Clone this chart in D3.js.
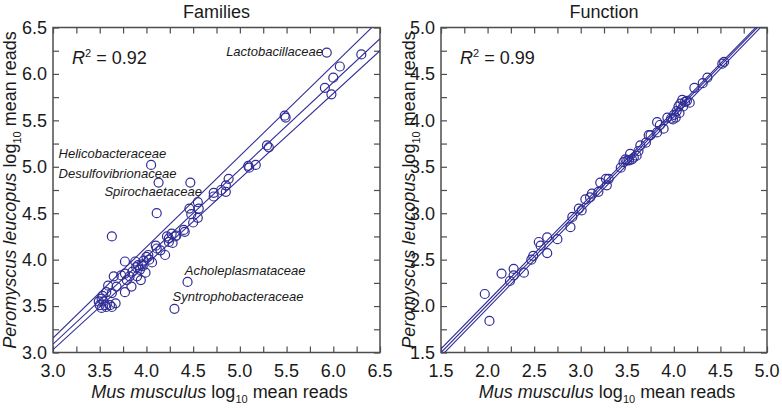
<!DOCTYPE html>
<html>
<head>
<meta charset="utf-8">
<script src="https://cdn.jsdelivr.net/npm/d3@7"></script>
<style>
  html, body { margin: 0; padding: 0; background: #fff; }
  svg { display: block; font-family: "Liberation Sans", Arial, sans-serif; }
</style>
</head>
<body>
<svg id="chart" width="782" height="409"></svg>
<script>
// ---------- DATA ----------
const panelTitles = ["Families", "Function"];
const r2Values = ["0.92", "0.99"];

// Families panel (Mus musculus x, Peromyscus leucopus y), log10 mean reads
const famX = [6.30,5.93,6.07,6.00,5.91,5.98,5.48,5.49,5.29,5.31,5.09,5.10,5.17,
  4.88,4.85,4.80,4.85,4.72,4.72,4.47,4.05,4.13,4.11,
  4.55,4.46,4.56,4.48,4.55,4.50,4.40,4.32,3.63,
  4.22,4.27,4.31,4.24,4.28,4.41,4.24,4.20,4.06,4.00,3.97,4.02,
  4.10,4.11,4.15,3.77,3.88,3.91,3.89,3.93,3.99,3.85,3.94,3.90,3.82,3.77,3.73,3.65,3.79,
  3.84,3.77,3.68,3.59,3.63,3.57,3.52,3.54,3.50,3.56,3.61,3.67,3.52,3.57,3.63,3.49,3.53,
  3.95,4.03,3.96,4.44,4.30];
const famY = [6.21,6.23,6.08,5.96,5.85,5.78,5.55,5.53,5.23,5.21,5.01,4.99,5.02,
  4.87,4.80,4.75,4.73,4.72,4.68,4.83,5.02,4.83,4.50,
  4.62,4.55,4.55,4.49,4.45,4.40,4.32,4.26,4.25,
  4.25,4.28,4.25,4.19,4.18,4.30,4.23,4.05,3.97,4.03,3.99,4.05,
  4.15,4.12,4.10,3.98,3.98,3.94,3.92,3.89,3.86,3.87,3.78,3.82,3.82,3.85,3.83,3.82,3.78,
  3.71,3.65,3.71,3.72,3.64,3.65,3.58,3.55,3.51,3.51,3.51,3.53,3.48,3.49,3.49,3.55,3.61,
  3.95,4.00,3.93,3.76,3.47];

// Function panel
const funX = [4.52,4.54,4.36,4.31,4.22,4.09,4.12,4.07,4.05,4.10,4.03,4.06,4.00,4.02,3.97,
  3.93,3.82,3.89,3.85,3.73,3.82,3.75,3.64,3.62,3.60,3.53,3.50,3.46,3.48,3.52,3.55,3.57,
  3.43,3.30,3.27,3.28,3.21,3.19,3.12,3.10,3.05,3.01,2.98,2.91,2.89,2.75,2.64,2.57,2.64,
  2.55,2.49,2.47,2.39,2.28,2.28,2.24,2.15,1.97,2.02,4.14,4.17,3.99,3.70];
const funY = [4.61,4.63,4.46,4.40,4.35,4.22,4.20,4.18,4.15,4.15,4.10,4.08,4.06,4.03,4.02,
  4.03,3.98,3.91,3.95,3.84,3.87,3.84,3.73,3.67,3.62,3.64,3.57,3.55,3.58,3.57,3.58,3.60,
  3.49,3.37,3.37,3.30,3.33,3.23,3.21,3.17,3.15,3.03,3.05,2.96,2.85,2.72,2.74,2.65,2.57,
  2.69,2.54,2.50,2.36,2.40,2.33,2.27,2.35,2.13,1.84,4.21,4.19,4.01,3.76];

// Regression line (centre) and band lines: y = a + b*x
const famIntercepts = [0.216, 0.27, 0.27];
const famSlopes     = [0.98, 0.94, 0.92];
const funIntercepts = [0.004, -0.045, -0.088];
const funSlopes     = [1.024, 1.03, 1.032];

// Labelled families (text + anchor in data units)
const famLabelNames = ["Lactobacillaceae","Helicobacteraceae","Desulfovibrionaceae",
  "Spirochaetaceae","Acholeplasmataceae","Syntrophobacteraceae"];
const famLabelX = [5.89, 3.06, 3.06, 3.55, 4.41, 4.28];
const famLabelY = [6.19, 5.10, 4.88, 4.69, 3.83, 3.55];
const famLabelAnchor = ["end","start","start","start","start","start"];

const famDomain = [3.0, 6.5];
const funDomain = [1.5, 5.0];

// ---------- DRAW ----------
const svg = d3.select("#chart");
const ink = "#302c96";
const frame = "#4d4d4d";

function panel(opts) {
  const { x0, x1, y0, y1, domain, xs, ys, intercepts, slopes, title, r2, id, yLabelX } = opts;
  const x = d3.scaleLinear().domain(domain).range([x0, x1]);
  const y = d3.scaleLinear().domain(domain).range([y1, y0]);
  const g = svg.append("g");

  g.append("clipPath").attr("id", id).append("rect")
    .attr("x", x0).attr("y", y0).attr("width", x1 - x0).attr("height", y1 - y0);

  // ticks (inward, all four sides)
  const minor = d3.range(domain[0], domain[1] + 0.001, 0.25);
  const major = d3.range(domain[0], domain[1] + 0.001, 0.5);
  const tl = 6;
  const fmt = d3.format(".1f");

  const axB = d3.axisBottom(x).tickValues(minor).tickSizeInner(-tl).tickSizeOuter(0).tickFormat("");
  const axT = d3.axisTop(x).tickValues(minor).tickSizeInner(-tl).tickSizeOuter(0).tickFormat("");
  const axL = d3.axisLeft(y).tickValues(minor).tickSizeInner(-tl).tickSizeOuter(0).tickFormat("");
  const axR = d3.axisRight(y).tickValues(minor).tickSizeInner(-tl).tickSizeOuter(0).tickFormat("");
  [[axB, `translate(0,${y1})`], [axT, `translate(0,${y0})`],
   [axL, `translate(${x0},0)`], [axR, `translate(${x1},0)`]].forEach(([ax, tr]) => {
    const a = g.append("g").attr("transform", tr).call(ax);
    a.select(".domain").remove();
    a.selectAll("line").attr("stroke", frame).attr("stroke-width", 1.2);
  });

  // tick labels
  g.append("g").selectAll("text").data(major).join("text")
    .attr("x", d => x(d)).attr("y", y1 + 24)
    .attr("text-anchor", "middle").attr("font-size", 18).attr("fill", "#1a1a1a")
    .text(d => fmt(d));
  g.append("g").selectAll("text").data(major).join("text")
    .attr("x", x0 - 6).attr("y", d => y(d)).attr("dy", "0.35em")
    .attr("text-anchor", "end").attr("font-size", 18).attr("fill", "#1a1a1a")
    .text(d => fmt(d));

  // frame
  g.append("rect").attr("x", x0).attr("y", y0).attr("width", x1 - x0).attr("height", y1 - y0)
    .attr("fill", "none").attr("stroke", frame).attr("stroke-width", 1.5);

  // regression lines
  const lines = intercepts.map((a, i) => [[domain[0], a + slopes[i] * domain[0]], [domain[1], a + slopes[i] * domain[1]]]);
  g.append("g").attr("clip-path", `url(#${id})`).selectAll("path").data(lines).join("path")
    .attr("d", d3.line().x(d => x(d[0])).y(d => y(d[1])))
    .attr("fill", "none").attr("stroke", ink).attr("stroke-width", 1.1);

  // points
  g.append("g").selectAll("circle").data(xs.map((v, i) => [v, ys[i]])).join("circle")
    .attr("cx", d => x(d[0])).attr("cy", d => y(d[1])).attr("r", 4.5)
    .attr("fill", "none").attr("stroke", ink).attr("stroke-width", 1.2);

  // title
  g.append("text").attr("x", (x0 + x1) / 2).attr("y", 18).attr("text-anchor", "middle")
    .attr("font-size", 18).attr("fill", "#1a1a1a").text(title);

  // R^2
  const r = g.append("text").attr("x", x0 + 19).attr("y", 64).attr("font-size", 18).attr("fill", "#1a1a1a");
  r.append("tspan").attr("font-style", "italic").text("R");
  r.append("tspan").attr("font-size", 11).attr("dy", -7).text("2");
  r.append("tspan").attr("dy", 7).text(" = " + r2);

  // x axis title
  const xt = g.append("text").attr("x", (x0 + x1) / 2 + 3).attr("y", 398).attr("text-anchor", "middle")
    .attr("font-size", 18).attr("fill", "#1a1a1a");
  xt.append("tspan").attr("font-style", "italic").text("Mus musculus");
  xt.append("tspan").text(" log");
  xt.append("tspan").attr("font-size", 11).attr("dy", 5).text("10");
  xt.append("tspan").attr("dy", -5).text(" mean reads");

  // y axis title
  const yt = g.append("text").attr("transform", `translate(${yLabelX},${(y0 + y1) / 2}) rotate(-90)`)
    .attr("text-anchor", "middle").attr("font-size", 18).attr("fill", "#1a1a1a");
  yt.append("tspan").attr("font-style", "italic").text("Peromyscus leucopus");
  yt.append("tspan").text(" log");
  yt.append("tspan").attr("font-size", 11).attr("dy", 5).text("10");
  yt.append("tspan").attr("dy", -5).text(" mean reads");

  return { x, y, g };
}

const left = panel({ x0: 53, x1: 380, y0: 27.5, y1: 352.5, domain: famDomain, xs: famX, ys: famY,
  intercepts: famIntercepts, slopes: famSlopes, title: panelTitles[0], r2: r2Values[0], id: "clipL", yLabelX: 16 });
const right = panel({ x0: 441, x1: 767, y0: 27.5, y1: 352.5, domain: funDomain, xs: funX, ys: funY,
  intercepts: funIntercepts, slopes: funSlopes, title: panelTitles[1], r2: r2Values[1], id: "clipR", yLabelX: 415 });

// family labels
left.g.append("g").selectAll("text").data(famLabelNames).join("text")
  .attr("x", (d, i) => left.x(famLabelX[i])).attr("y", (d, i) => left.y(famLabelY[i]))
  .attr("text-anchor", (d, i) => famLabelAnchor[i])
  .attr("font-size", 13).attr("font-style", "italic").attr("fill", "#1a1a1a")
  .text(d => d);
</script>
</body>
</html>
